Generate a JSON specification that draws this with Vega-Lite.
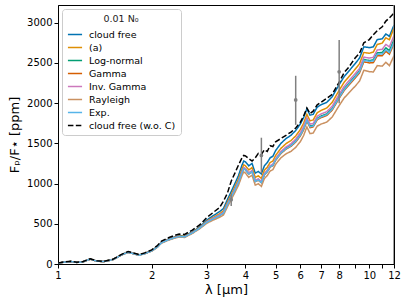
{
"$schema":"https://vega.github.io/schema/vega-lite/v6.json",
"width":336,"height":259,
"autosize":"none",
"padding":{"left":58,"top":5,"right":13,"bottom":40},
"config":{"font":"DejaVu Sans","view":{"stroke":"black","strokeWidth":1},
"style":{"guide-title":{"fontWeight":"normal"}},
"axis":{"domainColor":"black","tickColor":"black","labelColor":"black","titleColor":"black","grid":false,"labelFontSize":10,"titleFontSize":13,"titleFontWeight":"normal","tickSize":4,"labelFlush":false,"labelOverlap":false},
"legend":{"orient":"top-left","offset":4,"padding":5,"cornerRadius":3,"strokeColor":"#cccccc","fillColor":"rgba(255,255,255,0.8)","symbolType":"stroke","symbolStrokeWidth":1.5,"symbolSize":200,"labelFontSize":9.5,"titleFontSize":9.5,"titleFontWeight":"normal","titleAnchor":"middle","rowPadding":0,"labelOffset":6,"labelColor":"black","titleColor":"#222222","titlePadding":3}},
"datasets":{
"spec":[
{"x":1.0,"cf":10,"a":10,"ln":10,"g":10,"ig":10,"r":9,"e":10,"nc":12},
{"x":1.05,"cf":24,"a":24,"ln":24,"g":24,"ig":24,"r":23,"e":24,"nc":26},
{"x":1.1,"cf":31,"a":31,"ln":30,"g":30,"ig":30,"r":30,"e":30,"nc":33},
{"x":1.15,"cf":21,"a":21,"ln":20,"g":20,"ig":20,"r":20,"e":20,"nc":22},
{"x":1.2,"cf":26,"a":26,"ln":26,"g":26,"ig":26,"r":25,"e":26,"nc":28},
{"x":1.27,"cf":62,"a":62,"ln":61,"g":61,"ig":61,"r":60,"e":61,"nc":66},
{"x":1.33,"cf":37,"a":37,"ln":36,"g":36,"ig":36,"r":35,"e":36,"nc":40},
{"x":1.4,"cf":31,"a":31,"ln":30,"g":30,"ig":30,"r":29,"e":30,"nc":33},
{"x":1.5,"cf":55,"a":55,"ln":54,"g":54,"ig":54,"r":53,"e":54,"nc":58},
{"x":1.6,"cf":116,"a":115,"ln":114,"g":114,"ig":114,"r":112,"e":113,"nc":120},
{"x":1.68,"cf":150,"a":149,"ln":147,"g":147,"ig":147,"r":145,"e":146,"nc":156},
{"x":1.75,"cf":131,"a":130,"ln":128,"g":128,"ig":128,"r":126,"e":127,"nc":136},
{"x":1.82,"cf":114,"a":113,"ln":111,"g":111,"ig":111,"r":109,"e":110,"nc":118},
{"x":1.9,"cf":133,"a":132,"ln":130,"g":130,"ig":130,"r":128,"e":129,"nc":138},
{"x":2.0,"cf":168,"a":166,"ln":164,"g":164,"ig":164,"r":161,"e":163,"nc":176},
{"x":2.08,"cf":214,"a":211,"ln":209,"g":209,"ig":209,"r":205,"e":208,"nc":225},
{"x":2.15,"cf":272,"a":268,"ln":265,"g":265,"ig":265,"r":260,"e":264,"nc":285},
{"x":2.25,"cf":306,"a":302,"ln":298,"g":298,"ig":298,"r":292,"e":297,"nc":322},
{"x":2.35,"cf":333,"a":328,"ln":324,"g":324,"ig":324,"r":317,"e":323,"nc":350},
{"x":2.45,"cf":352,"a":347,"ln":342,"g":342,"ig":342,"r":335,"e":341,"nc":372},
{"x":2.55,"cf":348,"a":343,"ln":338,"g":338,"ig":338,"r":330,"e":337,"nc":368},
{"x":2.7,"cf":400,"a":394,"ln":388,"g":388,"ig":388,"r":380,"e":387,"nc":422},
{"x":2.85,"cf":460,"a":453,"ln":446,"g":446,"ig":446,"r":437,"e":445,"nc":485},
{"x":3.0,"cf":545,"a":530,"ln":520,"g":517,"ig":523,"r":505,"e":517,"nc":575},
{"x":3.15,"cf":600,"a":580,"ln":565,"g":561,"ig":569,"r":545,"e":561,"nc":640},
{"x":3.3,"cf":650,"a":624,"ln":605,"g":600,"ig":609,"r":580,"e":600,"nc":700},
{"x":3.4,"cf":690,"a":661,"ln":639,"g":633,"ig":643,"r":610,"e":633,"nc":780},
{"x":3.5,"cf":800,"a":768,"ln":743,"g":736,"ig":747,"r":710,"e":736,"nc":880},
{"x":3.6,"cf":900,"a":864,"ln":836,"g":829,"ig":840,"r":800,"e":829,"nc":1030},
{"x":3.7,"cf":1000,"a":961,"ln":930,"g":922,"ig":934,"r":890,"e":922,"nc":1130},
{"x":3.8,"cf":1100,"a":1057,"ln":1023,"g":1014,"ig":1028,"r":980,"e":1014,"nc":1230},
{"x":3.9,"cf":1230,"a":1184,"ln":1147,"g":1137,"ig":1151,"r":1100,"e":1137,"nc":1320},
{"x":3.95,"cf":1280,"a":1232,"ln":1193,"g":1184,"ig":1198,"r":1145,"e":1184,"nc":1350},
{"x":4.0,"cf":1270,"a":1220,"ln":1180,"g":1170,"ig":1185,"r":1130,"e":1170,"nc":1345},
{"x":4.1,"cf":1220,"a":1169,"ln":1128,"g":1118,"ig":1133,"r":1077,"e":1118,"nc":1310},
{"x":4.2,"cf":1250,"a":1198,"ln":1156,"g":1146,"ig":1162,"r":1104,"e":1147,"nc":1280},
{"x":4.3,"cf":1130,"a":1077,"ln":1034,"g":1024,"ig":1040,"r":981,"e":1025,"nc":1320},
{"x":4.4,"cf":1150,"a":1096,"ln":1052,"g":1042,"ig":1059,"r":998,"e":1044,"nc":1375},
{"x":4.5,"cf":1120,"a":1065,"ln":1020,"g":1010,"ig":1027,"r":965,"e":1012,"nc":1360},
{"x":4.6,"cf":1220,"a":1164,"ln":1118,"g":1108,"ig":1126,"r":1062,"e":1111,"nc":1420},
{"x":4.7,"cf":1260,"a":1203,"ln":1156,"g":1146,"ig":1164,"r":1099,"e":1149,"nc":1400},
{"x":4.8,"cf":1320,"a":1262,"ln":1214,"g":1204,"ig":1223,"r":1156,"e":1208,"nc":1470},
{"x":4.9,"cf":1340,"a":1281,"ln":1232,"g":1222,"ig":1241,"r":1173,"e":1226,"nc":1460},
{"x":5.0,"cf":1410,"a":1350,"ln":1300,"g":1290,"ig":1310,"r":1240,"e":1295,"nc":1520},
{"x":5.2,"cf":1500,"a":1438,"ln":1386,"g":1374,"ig":1398,"r":1320,"e":1380,"nc":1560},
{"x":5.4,"cf":1560,"a":1496,"ln":1442,"g":1428,"ig":1456,"r":1370,"e":1435,"nc":1600},
{"x":5.6,"cf":1600,"a":1534,"ln":1478,"g":1462,"ig":1494,"r":1400,"e":1470,"nc":1640},
{"x":5.8,"cf":1660,"a":1592,"ln":1534,"g":1516,"ig":1552,"r":1450,"e":1525,"nc":1690},
{"x":6.0,"cf":1740,"a":1670,"ln":1610,"g":1590,"ig":1630,"r":1520,"e":1600,"nc":1760},
{"x":6.15,"cf":1820,"a":1750,"ln":1688,"g":1668,"ig":1709,"r":1597,"e":1678,"nc":1840},
{"x":6.3,"cf":1930,"a":1860,"ln":1797,"g":1777,"ig":1818,"r":1704,"e":1787,"nc":1940},
{"x":6.45,"cf":1850,"a":1780,"ln":1716,"g":1696,"ig":1738,"r":1621,"e":1706,"nc":1870},
{"x":6.6,"cf":1860,"a":1790,"ln":1724,"g":1704,"ig":1747,"r":1628,"e":1714,"nc":1900},
{"x":6.8,"cf":1950,"a":1880,"ln":1812,"g":1792,"ig":1836,"r":1714,"e":1802,"nc":1980},
{"x":7.0,"cf":1980,"a":1910,"ln":1840,"g":1820,"ig":1865,"r":1740,"e":1830,"nc":2010},
{"x":7.3,"cf":2010,"a":1940,"ln":1867,"g":1847,"ig":1894,"r":1764,"e":1857,"nc":2060},
{"x":7.6,"cf":2080,"a":2010,"ln":1934,"g":1914,"ig":1962,"r":1828,"e":1924,"nc":2110},
{"x":8.0,"cf":2230,"a":2160,"ln":2080,"g":2060,"ig":2110,"r":1970,"e":2070,"nc":2260},
{"x":8.3,"cf":2330,"a":2260,"ln":2178,"g":2157,"ig":2208,"r":2064,"e":2168,"nc":2380},
{"x":8.6,"cf":2400,"a":2330,"ln":2247,"g":2224,"ig":2277,"r":2128,"e":2237,"nc":2450},
{"x":9.0,"cf":2490,"a":2420,"ln":2335,"g":2310,"ig":2365,"r":2210,"e":2325,"nc":2560},
{"x":9.3,"cf":2560,"a":2490,"ln":2403,"g":2377,"ig":2433,"r":2274,"e":2393,"nc":2620},
{"x":9.6,"cf":2700,"a":2630,"ln":2542,"g":2514,"ig":2572,"r":2408,"e":2532,"nc":2750},
{"x":10.0,"cf":2690,"a":2620,"ln":2530,"g":2500,"ig":2560,"r":2390,"e":2520,"nc":2790},
{"x":10.3,"cf":2700,"a":2635,"ln":2537,"g":2504,"ig":2570,"r":2388,"e":2524,"nc":2850},
{"x":10.6,"cf":2790,"a":2730,"ln":2624,"g":2588,"ig":2660,"r":2466,"e":2608,"nc":2900},
{"x":11.0,"cf":2800,"a":2747,"ln":2630,"g":2590,"ig":2670,"r":2460,"e":2610,"nc":2950},
{"x":11.3,"cf":2860,"a":2813,"ln":2687,"g":2644,"ig":2730,"r":2508,"e":2664,"nc":3020},
{"x":11.6,"cf":2830,"a":2788,"ln":2654,"g":2608,"ig":2700,"r":2466,"e":2628,"nc":3060},
{"x":12.0,"cf":2970,"a":2935,"ln":2790,"g":2740,"ig":2840,"r":2590,"e":2760,"nc":3120}
],
"err":[
{"x":3.6,"y":800,"lo":720,"hi":870},
{"x":4.5,"y":1350,"lo":1130,"hi":1570},
{"x":5.8,"y":2040,"lo":1730,"hi":2340},
{"x":8.0,"y":2390,"lo":2000,"hi":2785},
{"x":12.0,"y":3500,"lo":-500,"hi":4000}
]
},
"layer":[
{"data":{"name":"spec"},
"transform":[{"fold":["cf","a","ln","g","ig","r","e","nc"],"as":["series","ppm"]}],
"mark":{"type":"line","strokeWidth":1.5,"clip":true},
"encoding":{
"x":{"field":"x","type":"quantitative","scale":{"type":"log","domain":[1,12],"nice":false},
"axis":{"title":"λ [μm]","values":[1,2,3,4,5,6,7,8,9,10,11,12],"labelExpr":"(datum.value==9||datum.value==11)?'':format(datum.value,'d')","labelPadding":2,"titlePadding":3}},
"y":{"field":"ppm","type":"quantitative","scale":{"domain":[0,3220],"nice":false,"zero":false},
"axis":{"title":"Fₚ/F⋆ [ppm]","values":[0,500,1000,1500,2000,2500,3000],"format":"d","labelPadding":2,"titlePadding":5}},
"color":{"field":"series","type":"nominal","sort":null,
"scale":{"domain":["cf","a","ln","g","ig","r","e","nc"],"range":["#0173b2","#de8f05","#029e73","#d55e00","#cc78bc","#ca9161","#56b4e9","#000000"]},
"legend":{"title":"0.01 N₀","titleFontWeight":"normal","labelExpr":"{'cf':'cloud free','a':'(a)','ln':'Log-normal','g':'Gamma','ig':'Inv. Gamma','r':'Rayleigh','e':'Exp.','nc':'cloud free (w.o. C)'}[datum.value]"}},
"strokeDash":{"field":"series","type":"nominal","sort":null,
"scale":{"domain":["cf","a","ln","g","ig","r","e","nc"],"range":[[1,0],[1,0],[1,0],[1,0],[1,0],[1,0],[1,0],[5.5,2.4]]},
"legend":{"title":"0.01 N₀","titleFontWeight":"normal","labelExpr":"{'cf':'cloud free','a':'(a)','ln':'Log-normal','g':'Gamma','ig':'Inv. Gamma','r':'Rayleigh','e':'Exp.','nc':'cloud free (w.o. C)'}[datum.value]"}}
}},
{"data":{"name":"err"},
"mark":{"type":"rule","color":"#808080","strokeWidth":1.5,"clip":true},
"encoding":{"x":{"field":"x","type":"quantitative"},"y":{"field":"lo","type":"quantitative"},"y2":{"field":"hi"}}},
{"data":{"name":"err"},
"mark":{"type":"point","filled":true,"color":"#808080","size":14,"opacity":1,"clip":true},
"encoding":{"x":{"field":"x","type":"quantitative"},"y":{"field":"y","type":"quantitative"}}}
]
}
